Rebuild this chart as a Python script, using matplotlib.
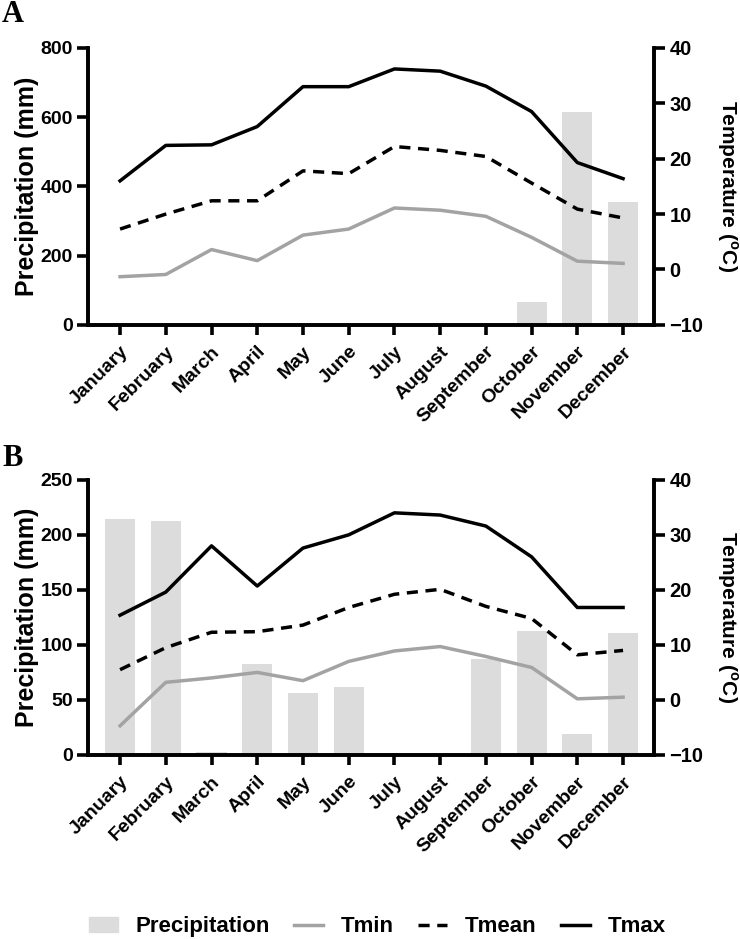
import numpy as np
import matplotlib
matplotlib.use('Agg')
import matplotlib.pyplot as plt
from matplotlib.patches import Patch
from matplotlib.lines import Line2D

months = ['January', 'February', 'March', 'April', 'May', 'June', 'July',
          'August', 'September', 'October', 'November', 'December']

# panel A
precip_a = [0, 0, 0, 0, 0, 0, 0, 0, 0, 66, 615, 355]
tmin_a = [-1.3, -0.9, 3.6, 1.6, 6.2, 7.3, 11.1, 10.7, 9.6, 5.8, 1.5, 1.1]
tmean_a = [7.3, 10.0, 12.4, 12.4, 17.8, 17.3, 22.2, 21.5, 20.4, 15.6, 10.9, 9.3]
tmax_a = [16.0, 22.4, 22.5, 25.8, 33.0, 33.0, 36.2, 35.8, 33.1, 28.5, 19.3, 16.4]

# panel B
precip_b = [214, 213, 3, 83, 56, 62, 2, 0, 87, 113, 19, 111]
tmin_b = [-4.7, 3.2, 4.0, 5.0, 3.5, 7.0, 8.9, 9.7, 7.9, 5.9, 0.2, 0.5]
tmean_b = [5.5, 9.5, 12.3, 12.4, 13.6, 16.8, 19.2, 20.1, 17.0, 14.8, 8.2, 9.0]
tmax_b = [15.4, 19.6, 28.0, 20.7, 27.6, 30.0, 34.0, 33.6, 31.6, 26.0, 16.8, 16.8]

bar_col = '#dcdcdc'
tmin_col = '#a3a3a3'
lw = 2.5
dash = (3.2, 2.2)

plt.rcParams['font.family'] = ['Liberation Sans', 'DejaVu Sans']
plt.rcParams['font.weight'] = 'bold'
plt.rcParams['axes.labelweight'] = 'bold'
plt.rcParams['mathtext.fontset'] = 'custom'
plt.rcParams['mathtext.rm'] = 'Liberation Sans:bold'
plt.rcParams['mathtext.bf'] = 'Liberation Sans:bold'

fig = plt.figure(figsize=(7.4, 9.39), dpi=100)


def draw_panel(rect, precip, tmin, tmean, tmax, pmax, pticks):
    ax = fig.add_axes(rect)
    x = np.arange(len(months))
    ax.bar(x, precip, width=0.66, color=bar_col, zorder=1)
    ax.set_xlim(-0.7, 11.68)
    ax.set_ylim(0, pmax)
    ax.set_yticks(pticks)
    ax.set_xticks(x)
    ax.set_xticklabels(months, rotation=45, ha='right', rotation_mode='anchor',
                       fontsize=14, fontweight='bold')
    ax.set_ylabel('Precipitation (mm)', fontsize=18, fontweight='bold', labelpad=1)
    ax2 = ax.twinx()
    ax2.plot(x, tmin, color=tmin_col, lw=lw)
    ax2.plot(x, tmean, color='black', lw=lw, dashes=dash)
    ax2.plot(x, tmax, color='black', lw=lw)
    ax2.set_ylim(-10, 40)
    ax2.set_yticks([-10, 0, 10, 20, 30, 40])
    ax2.set_ylabel(r'Temperature ($^{\mathrm{o}}$C)', fontsize=15, fontweight='bold',
                   rotation=270, labelpad=26)
    for a in (ax, ax2):
        for s in a.spines.values():
            s.set_linewidth(2.6)
        a.spines['top'].set_visible(False)
        a.tick_params(width=2.6, length=8, labelsize=14, pad=3)
        for lab in a.get_yticklabels():
            lab.set_fontweight('bold')
    ax2.tick_params(axis='y', labelsize=14.5)
    ax.tick_params(axis='x', length=7, pad=6)
    return ax


draw_panel([0.119, 0.654, 0.765, 0.295], precip_a, tmin_a, tmean_a, tmax_a,
           800, [0, 200, 400, 600, 800])
draw_panel([0.119, 0.196, 0.765, 0.293], precip_b, tmin_b, tmean_b, tmax_b,
           250, [0, 50, 100, 150, 200, 250])

fig.text(0.003, 0.977, 'A', fontsize=22, fontweight='bold', family='Liberation Serif',
         va='baseline')
fig.text(0.003, 0.504, 'B', fontsize=22, fontweight='bold', family='Liberation Serif',
         va='baseline')

handles = [Patch(color=bar_col, label='Precipitation'),
           Line2D([], [], color=tmin_col, lw=lw, label='Tmin'),
           Line2D([], [], color='black', lw=lw, dashes=dash, label='Tmean'),
           Line2D([], [], color='black', lw=lw, label='Tmax')]
fig.legend(handles=handles, loc='center', bbox_to_anchor=(0.51, 0.013), ncol=4,
           frameon=False, handlelength=1.3, handletextpad=0.8, columnspacing=1.1,
           prop={'weight': 'bold', 'size': 16})

fig.savefig('out.png', dpi=100)
